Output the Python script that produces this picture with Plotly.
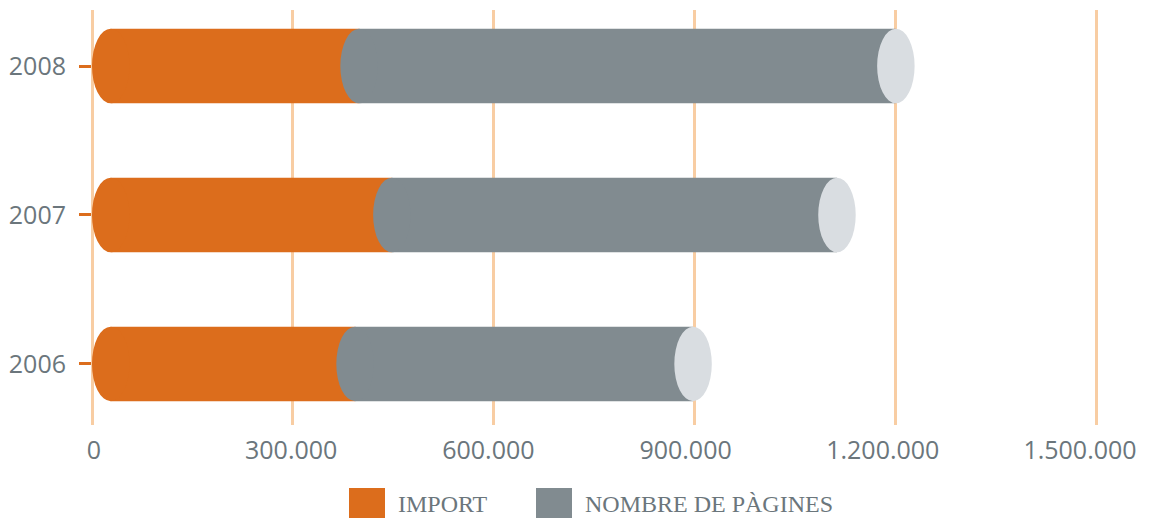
import plotly.graph_objects as go

# data
years = ["2006", "2007", "2008"]
importe = [365000, 420000, 371000]
totals = [898000, 1113000, 1201000]
paginas = [t - i for t, i in zip(totals, importe)]

tick_vals = [0, 300000, 600000, 900000, 1200000, 1500000]
tick_text = ["0", "300.000", "600.000", "900.000", "1.200.000", "1.500.000"]

ORANGE = "#dc6d1c"
GREY = "#818b90"
CAP = "#d9dde1"
GRID = "#f8cda3"
TEXT = "#6b767c"

R = 28000      # horizontal radius of the cylinder ellipses (data units)
W = 0.5        # bar thickness (category units)
ypos = list(range(len(years)))

fig = go.Figure()

# cylinder bodies: shifted by R so the rounded left end starts at the segment value
fig.add_trace(go.Bar(
    y=ypos, x=importe, base=[R] * len(years), orientation="h",
    width=W, marker=dict(color=ORANGE, line_width=0), name="IMPORT",
))
fig.add_trace(go.Bar(
    y=ypos, x=[p - R for p in paginas], base=[i + R for i in importe],
    orientation="h", width=W, marker=dict(color=GREY, line_width=0),
    name="NOMBRE DE PÀGINES",
))
# empty trace so the label axis gets drawn
fig.add_trace(go.Scatter(x=[], y=[], xaxis="x2", showlegend=False, hoverinfo="skip"))

shapes = []
for y, imp, tot in zip(ypos, importe, totals):
    # rounded left end of the orange cylinder
    shapes.append(dict(type="circle", xref="x", yref="y", x0=0, x1=2 * R,
                       y0=y - W / 2, y1=y + W / 2, fillcolor=ORANGE,
                       line_width=0, layer="above"))
    # rounded left end of the grey cylinder
    shapes.append(dict(type="circle", xref="x", yref="y", x0=imp, x1=imp + 2 * R,
                       y0=y - W / 2, y1=y + W / 2, fillcolor=GREY,
                       line_width=0, layer="above"))
    # end face
    shapes.append(dict(type="circle", xref="x", yref="y", x0=tot - R, x1=tot + R,
                       y0=y - W / 2, y1=y + W / 2, fillcolor=CAP,
                       line_width=0, layer="above"))

# legend drawn by hand (big square swatches); positions in page pixels
legend_items = [("IMPORT", ORANGE, 349), ("NOMBRE DE PÀGINES", GREY, 536)]
annotations = []
for label, color, px0 in legend_items:
    shapes.append(dict(type="rect", xref="paper", yref="paper",
                       x0=(px0 - 92) / 1038, x1=(px0 + 36 - 92) / 1038,
                       y0=(425 - 518) / 415, y1=(425 - 488) / 415,
                       fillcolor=color, line_width=0))
    annotations.append(dict(xref="paper", yref="paper",
                            x=(px0 + 47 - 92) / 1038, y=(425 - 504) / 415,
                            text=label, showarrow=False, xanchor="left",
                            yanchor="middle",
                            font=dict(family="Liberation Serif", size=24, color=TEXT)))

fig.update_layout(
    width=1151, height=519,
    margin=dict(l=92, r=21, t=10, b=94),
    plot_bgcolor="white", paper_bgcolor="white",
    barmode="overlay", showlegend=False,
    shapes=shapes, annotations=annotations,
    font=dict(family="Open Sans", size=25, color=TEXT),
    # labels in the original sit on a slightly tighter spacing than the grid
    xaxis2=dict(overlaying="x", anchor="y", side="bottom",
                range=[-3042, 1576085], tickvals=tick_vals, ticktext=tick_text,
                showgrid=False, zeroline=False, showline=False, ticks="",
                ticklabelstandoff=8, ticklabeloverflow="allow", automargin=False,
                tickfont=dict(family="Open Sans", size=25, color=TEXT)),
)

fig.update_xaxes(
    selector=dict(overlaying=None),
    range=[0, 1550800], tickvals=tick_vals, showticklabels=False,
    showgrid=True, gridcolor=GRID, gridwidth=3,
    zeroline=True, zerolinecolor=GRID, zerolinewidth=3,
    showline=False, ticks="", automargin=False,
)
fig.update_yaxes(
    range=[-0.41, 2.376], tickvals=ypos, ticktext=years,
    showgrid=False, zeroline=False, showline=False,
    ticks="outside", ticklen=12, tickwidth=3, tickcolor=ORANGE,
    ticklabelstandoff=8, automargin=False,
)

fig.write_html("out.html", config={"displayModeBar": False},
               post_script="document.body.style.margin='0';")
